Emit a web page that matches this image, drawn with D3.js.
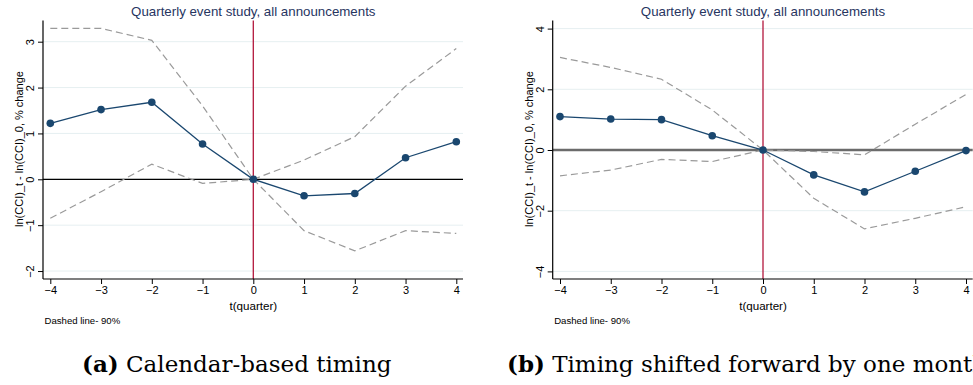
<!DOCTYPE html>
<html><head><meta charset="utf-8">
<script src="https://cdn.jsdelivr.net/npm/d3@7"></script>
<style>body{margin:0;background:#fff;}svg{display:block;}</style>
</head><body><svg id="c" width="973" height="385"></svg>
<script>
const quarters = [-4,-3,-2,-1,0,1,2,3,4];
// Panel (a): calendar-based timing
const estA   = [1.22, 1.52, 1.68, 0.77, 0, -0.36, -0.31, 0.47, 0.82];
const upperA = [3.29, 3.29, 3.03, 1.60, 0, 0.42, 0.93, 2.03, 2.85];
const lowerA = [-0.85, -0.27, 0.33, -0.09, 0, -1.12, -1.56, -1.12, -1.18];
const yTicksA = [-2,-1,0,1,2,3];
// Panel (b): timing shifted forward by one month
const estB   = [1.10, 1.02, 1.00, 0.47, 0, -0.82, -1.38, -0.70, -0.02];
const upperB = [3.05, 2.72, 2.33, 1.32, 0, -0.05, -0.16, 0.85, 1.83];
const lowerB = [-0.85, -0.66, -0.31, -0.38, 0, -1.59, -2.60, -2.25, -1.87];
const yTicksB = [-4,-2,0,2,4];
const xTicks = [-4,-3,-2,-1,0,1,2,3,4];
const titleText = "Quarterly event study, all announcements";
const yTitle = "ln(CCI)_t - ln(CCI)_0, % change";
const xTitle = "t(quarter)";
const noteText = "Dashed line- 90%";
const captions = [["(a)", "Calendar-based timing"], ["(b)", "Timing shifted forward by one month"]];

const SANS = "'Liberation Sans', Arial, sans-serif";
const SERIF = "'DejaVu Serif', 'Liberation Serif', serif";
const svg = d3.select("#c");

function panel(cfg){
  const g = svg.append("g").attr("font-family", SANS);
  const x = d3.scaleLinear().domain([-4,4]).range([cfg.left+7.3, cfg.left+413.3]);
  const y = d3.scaleLinear().domain(cfg.ydom).range(cfg.yrange);
  const top = 20.5, bottom = 279, right = cfg.left + 420;
  g.selectAll(".grid").data(cfg.yTicks).join("line")
    .attr("x1", cfg.left).attr("x2", right)
    .attr("y1", d=>y(d)).attr("y2", d=>y(d))
    .attr("stroke", "#e6eff1").attr("stroke-width", 1);
  g.append("line").attr("x1", cfg.left).attr("x2", right)
    .attr("y1", y(0)).attr("y2", y(0))
    .attr("stroke", cfg.zeroColor).attr("stroke-width", cfg.zeroWidth);
  g.append("line").attr("x1", x(0)).attr("x2", x(0)).attr("y1", top).attr("y2", bottom)
    .attr("stroke", "#b3173c").attr("stroke-width", 1.3);
  const line = d3.line().x((d,i)=>x(quarters[i])).y(d=>y(d));
  [cfg.upper, cfg.lower].forEach(s=>{
    g.append("path").attr("d", line(s)).attr("fill","none")
      .attr("stroke","#9a9a9a").attr("stroke-width",1.2).attr("stroke-dasharray","7,4");
  });
  g.append("path").attr("d", line(cfg.est)).attr("fill","none")
    .attr("stroke","#1a476f").attr("stroke-width",1.3);
  g.selectAll(".pt").data(cfg.est).join("circle")
    .attr("cx",(d,i)=>x(quarters[i])).attr("cy",d=>y(d)).attr("r",3.8).attr("fill","#1a476f");
  // y axis
  const ya = d3.axisLeft(y).tickValues(cfg.yTicks).tickSize(5).tickPadding(3).tickFormat(d3.format("d"));
  const yg = g.append("g").attr("transform",`translate(${cfg.left},0)`).call(ya).attr("font-family", SANS);
  yg.select(".domain").attr("d", `M0,${top}V${bottom}`).attr("stroke","#000").attr("stroke-width",1.2);
  yg.selectAll(".tick line").attr("stroke","#000");
  yg.selectAll(".tick text").attr("font-size",11).attr("fill","#000").attr("text-anchor","middle")
    .attr("transform","translate(-13,0) rotate(-90)").attr("x",0).attr("y",0).attr("dy","0.36em");
  // x axis
  const xa = d3.axisBottom(x).tickValues(xTicks).tickSize(5).tickPadding(2).tickFormat(d3.format("d"));
  const xg = g.append("g").attr("transform",`translate(0,${bottom})`).call(xa).attr("font-family", SANS);
  xg.select(".domain").attr("d", `M${cfg.left},0H${right}`).attr("stroke","#000").attr("stroke-width",1.2);
  xg.selectAll(".tick line").attr("stroke","#000");
  xg.selectAll(".tick text").attr("font-size",11).attr("fill","#000");
  // titles
  g.append("text").attr("x", x(0)).attr("y", 15.5).attr("text-anchor","middle")
    .attr("font-size",13.3).attr("fill","#27355f").text(titleText);
  g.append("text").attr("transform",`translate(${cfg.left-20},149) rotate(-90)`)
    .attr("text-anchor","middle").attr("font-size",11).attr("fill","#000").text(yTitle);
  g.append("text").attr("x", x(0)).attr("y", 310).attr("text-anchor","middle")
    .attr("font-size",11.6).attr("fill","#000").text(xTitle);
  g.append("text").attr("x", cfg.left+1.5).attr("y", 323.5)
    .attr("font-size",9.6).attr("fill","#000").text(noteText);
  const cap = svg.append("text").attr("x", cfg.capX).attr("y", 372)
    .attr("font-family", SERIF).attr("font-size",cfg.capSize).attr("fill","#000");
  cap.append("tspan").attr("font-weight","bold").text(cfg.caption[0]);
  cap.append("tspan").text(" " + cfg.caption[1]);
}

panel({left:43, ydom:[0,3], yrange:[179.3,41.7], yTicks:yTicksA, est:estA, upper:upperA, lower:lowerA,
       zeroColor:"#000", zeroWidth:1.3, caption:captions[0], capX:82, capSize:23});
panel({left:552.7, ydom:[0,4], yrange:[150,28.6], yTicks:yTicksB, est:estB, upper:upperB, lower:lowerB,
       zeroColor:"#6b6b6b", zeroWidth:2.4, caption:captions[1], capX:507, capSize:23});
</script></body></html>
